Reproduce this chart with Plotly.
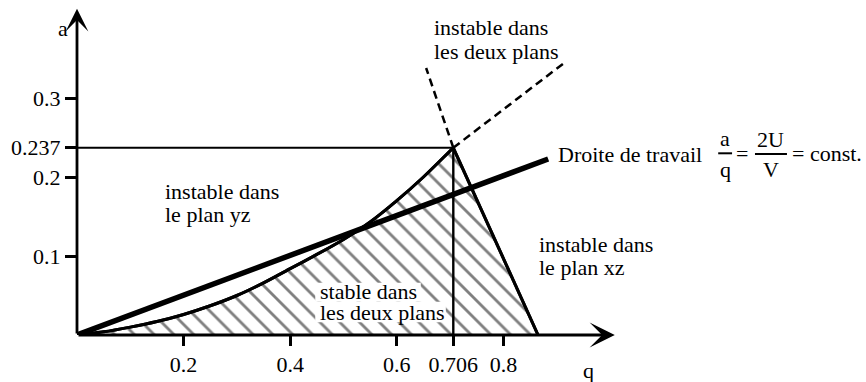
import plotly.graph_objects as go

# Stability diagram of the ion trap in the (q, a) plane

# left boundary of the stable region (from the origin up to the apex)
Q_LEFT = [0, 0.05, 0.10, 0.15, 0.20, 0.25, 0.30, 0.35, 0.40, 0.45, 0.50, 0.55, 0.60, 0.65, 0.706]
A_LEFT = [0, 0.004, 0.010, 0.017, 0.026, 0.037, 0.050, 0.066, 0.084, 0.102, 0.121, 0.143, 0.170, 0.200, 0.237]

# right boundary (apex down to the q axis)
Q_RIGHT = [0.706, 0.865]
A_RIGHT = [0.237, 0.0]

# apex of the stable region
Q_APEX = 0.706
A_APEX = 0.237

# dashed continuations of both boundaries above the apex
Q_DASH_LEFT = [0.706, 0.655]
A_DASH_LEFT = [0.237, 0.338]
Q_DASH_RIGHT = [0.706, 0.919]
A_DASH_RIGHT = [0.237, 0.347]

# working line a/q = 2U/V = const.
WORK_SLOPE = 0.252
Q_WORK = [0.0, 0.884]

# axis ticks
X_TICKS = [0.2, 0.4, 0.6, 0.706, 0.8]
X_TICK_TEXT = ["0.2", "0.4", "0.6", "0.706", "0.8"]
Y_TICKS = [0.1, 0.2, 0.237, 0.3]
Y_TICK_TEXT = ["0.1", "0.2", "0.237", "0.3"]

# axis extents (arrow tips)
Q_AXIS_END = 1.009
A_AXIS_END = 0.413

FONT = "Liberation Serif"
INK = "#000000"

HATCH = dict(shape="\\", size=14, solidity=0.2, fgcolor=INK, bgcolor="white")

fig = go.Figure()

# hatched stable region: under the left boundary, then under the right boundary
fig.add_trace(go.Scatter(
    x=Q_LEFT, y=A_LEFT, mode="lines", fill="tozeroy",
    line=dict(color=INK, width=3, shape="spline", smoothing=0.6),
    fillcolor="white", fillpattern=HATCH, hoverinfo="skip",
))
fig.add_trace(go.Scatter(
    x=Q_RIGHT, y=A_RIGHT, mode="lines", fill="tozeroy",
    line=dict(color=INK, width=3),
    fillcolor="white", fillpattern=HATCH, hoverinfo="skip",
))

# guide lines to the apex
fig.add_trace(go.Scatter(x=[0, Q_APEX], y=[A_APEX, A_APEX], mode="lines",
                         line=dict(color=INK, width=2)))
fig.add_trace(go.Scatter(x=[Q_APEX, Q_APEX], y=[0, A_APEX], mode="lines",
                         line=dict(color=INK, width=2.4)))

# boundaries redrawn on top of the hatching
fig.add_trace(go.Scatter(x=Q_LEFT, y=A_LEFT, mode="lines",
                         line=dict(color=INK, width=3, shape="spline", smoothing=0.6)))
fig.add_trace(go.Scatter(x=Q_RIGHT, y=A_RIGHT, mode="lines",
                         line=dict(color=INK, width=3)))

# dashed continuations
for qs, as_ in ((Q_DASH_LEFT, A_DASH_LEFT), (Q_DASH_RIGHT, A_DASH_RIGHT)):
    fig.add_trace(go.Scatter(x=qs, y=as_, mode="lines",
                             line=dict(color=INK, width=2.5, dash="8px,5px")))

# working line
fig.add_trace(go.Scatter(x=Q_WORK, y=[WORK_SLOPE * q for q in Q_WORK], mode="lines",
                         line=dict(color=INK, width=5.5)))

# fraction bars of a/q = 2U/V
fig.add_trace(go.Scatter(x=[1.203, 1.229], y=[0.230, 0.230], mode="lines",
                         line=dict(color=INK, width=2)))
fig.add_trace(go.Scatter(x=[1.272, 1.332], y=[0.229, 0.229], mode="lines",
                         line=dict(color=INK, width=2)))

# white backing behind the label inside the hatched region
shapes = [
    dict(type="rect", xref="x", yref="y", x0=0.447, x1=0.645, y0=0.042, y1=0.066,
         fillcolor="white", line=dict(width=0), layer="above"),
    dict(type="rect", xref="x", yref="y", x0=0.447, x1=0.692, y0=0.016, y1=0.042,
         fillcolor="white", line=dict(width=0), layer="above"),
]

annotations = []

# axes drawn as arrows
for tip_x, tip_y, size in ((Q_AXIS_END, 0, 1.5), (0, A_AXIS_END, 1.35)):
    annotations.append(dict(
        x=tip_x, y=tip_y, ax=0, ay=0, xref="x", yref="y", axref="x", ayref="y",
        text="", showarrow=True, arrowhead=3, arrowsize=size, arrowwidth=2.8,
        arrowcolor=INK,
    ))


def label(text, x, y, anchor="left", ref="x"):
    annotations.append(dict(
        x=x, y=y, xref=ref, yref="y" if ref == "x" else ref,
        text=text, showarrow=False, xanchor=anchor, yanchor="middle",
        font=dict(family=FONT, size=22, color=INK),
    ))


label("instable dans", 0.161, 0.182)
label("le plan yz", 0.161, 0.152)
label("instable dans", 0.666, 0.389)
label("les deux plans", 0.666, 0.359)
label("instable dans", 0.863, 0.114)
label("le plan xz", 0.863, 0.086)
label("stable dans", 0.452, 0.055)
label("les deux plans", 0.452, 0.028)
label("Droite de travail", 0.898, 0.229)

# axis names, placed relative to the plotting area
label("a", -0.018, 0.916, anchor="center", ref="paper")
label("q", 0.648, -0.105, anchor="center", ref="paper")

# a/q = 2U/V = const.
label("a", 1.216, 0.249, anchor="center")
label("q", 1.216, 0.210, anchor="center")
label("=", 1.248, 0.230, anchor="center")
label("2U", 1.302, 0.248, anchor="center")
label("V", 1.302, 0.210, anchor="center")
label("= const.", 1.338, 0.230)

fig.update_layout(
    width=866, height=382,
    margin=dict(l=77, r=0, t=0, b=47),
    paper_bgcolor="white", plot_bgcolor="white",
    showlegend=False,
    shapes=shapes,
    annotations=annotations,
    xaxis=dict(
        range=[0, 789 / 533], showgrid=False, zeroline=False, showline=False,
        tickmode="array", tickvals=X_TICKS, ticktext=X_TICK_TEXT,
        ticks="outside", ticklen=10, tickwidth=2.5, tickcolor=INK,
        tickfont=dict(family=FONT, size=22, color=INK),
    ),
    yaxis=dict(
        range=[0, 335 / 790], showgrid=False, zeroline=False, showline=False,
        tickmode="array", tickvals=Y_TICKS, ticktext=Y_TICK_TEXT,
        ticks="outside", ticklen=11, tickwidth=2.5, tickcolor=INK,
        tickfont=dict(family=FONT, size=22, color=INK),
    ),
)

fig.write_html("out.html")
